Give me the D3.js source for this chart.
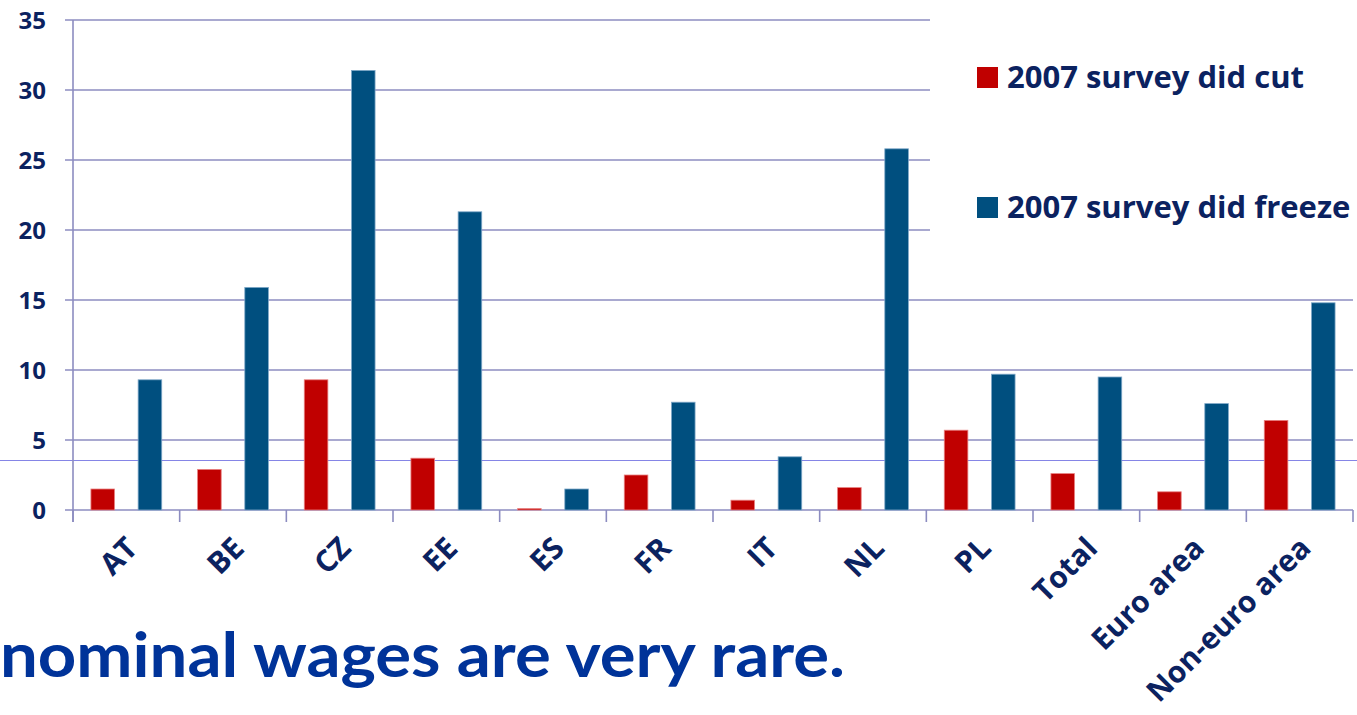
<!DOCTYPE html>
<html lang="en">
<head>
    <meta charset="utf-8">
    <title>Wage cuts and freezes</title>
    <script src="https://d3js.org/d3.v7.min.js"></script>
<style>
body { margin: 0; background: #fff; }
svg { display: block; }
</style>
</head>
<body>
<div id="chart"></div>
<script>
// data
var categories = ["AT", "BE", "CZ", "EE", "ES", "FR", "IT", "NL", "PL", "Total", "Euro area", "Non-euro area"];
var cutValues = [1.5, 2.9, 9.3, 3.7, 0.1, 2.5, 0.7, 1.6, 5.7, 2.6, 1.3, 6.4];
var freezeValues = [9.3, 15.9, 31.4, 21.3, 1.5, 7.7, 3.8, 25.8, 9.7, 9.5, 7.6, 14.8];
var seriesNames = ["2007 survey did cut", "2007 survey did freeze"];
var seriesColors = ["#c00000", "#004f7f"];
var yTicks = [0, 5, 10, 15, 20, 25, 30, 35];
var titleText = "nominal wages are very rare.";

(function () {
    var width = 1357, height = 715,
        left = 73, right = 1353, top = 20, bottom = 510,
        navy = "#0b2260", gridColor = "#8c8cc0";

    var svg = d3.select("#chart").append("svg")
        .attr("width", width).attr("height", height);

    var x0 = d3.scaleBand().domain(categories).range([left, right]);
    var x1 = d3.scaleBand().domain([0, 1]).range([0, x0.bandwidth()])
        .paddingInner(0.5).paddingOuter(0.38);
    var y = d3.scaleLinear().domain([0, 35]).range([bottom, top]);

    // slide decoration line behind the chart
    svg.append("line")
        .attr("x1", 0).attr("x2", width)
        .attr("y1", 460.5).attr("y2", 460.5)
        .style("stroke", "#8585e6").style("stroke-width", 1.2);

    // gridlines
    svg.append("g")
        .selectAll("line")
        .data(yTicks)
        .enter().append("line")
        .attr("x1", left - 8).attr("x2", right)
        .attr("y1", function (d) { return y(d); })
        .attr("y2", function (d) { return y(d); })
        .style("stroke", gridColor).style("stroke-width", 1.6);

    // legend box hides the top right of the grid
    svg.append("rect")
        .attr("x", 930).attr("y", 0).attr("width", width - 930).attr("height", 262)
        .style("fill", "#fff");

    // bars
    var groups = svg.append("g").selectAll("g")
        .data(categories)
        .enter().append("g")
        .attr("transform", function (d) { return "translate(" + x0(d) + ",0)"; });

    groups.selectAll("rect")
        .data(function (d, i) { return [cutValues[i], freezeValues[i]]; })
        .enter().append("rect")
        .attr("x", function (d, j) { return x1(j); })
        .attr("width", x1.bandwidth())
        .attr("y", function (d) { return y(d); })
        .attr("height", function (d) { return y(0) - y(d); })
        .style("fill", function (d, j) { return seriesColors[j]; })
        .style("stroke", function (d, j) { return j ? "#7fa8c8" : "#e88080"; })
        .style("stroke-width", 0.8);

    // axes
    svg.append("line")
        .attr("x1", left).attr("x2", left).attr("y1", top).attr("y2", bottom + 12)
        .style("stroke", gridColor).style("stroke-width", 1.6);

    var bounds = categories.map(function (d) { return x0(d); }).concat([right]);
    svg.append("g").selectAll("line")
        .data(bounds)
        .enter().append("line")
        .attr("x1", function (d) { return d; }).attr("x2", function (d) { return d; })
        .attr("y1", bottom).attr("y2", bottom + 12)
        .style("stroke", gridColor).style("stroke-width", 1.6);

    svg.append("g").selectAll("text")
        .data(yTicks)
        .enter().append("text")
        .attr("x", 46).attr("y", function (d) { return y(d); })
        .attr("dy", "0.36em")
        .attr("text-anchor", "end")
        .style("font", "bold 24px 'Open Sans', sans-serif")
        .style("fill", navy)
        .text(function (d) { return d; });

    svg.append("g").selectAll("text")
        .data(categories)
        .enter().append("text")
        .attr("transform", function (d) {
            return "translate(" + (x0(d) + x0.bandwidth() / 2 + 13) + "," + (bottom + 40) + ") rotate(-45)";
        })
        .attr("text-anchor", "end")
        .style("font", "bold 30px 'Open Sans', sans-serif")
        .style("fill", navy)
        .text(function (d) { return d; });

    // legend
    var legend = svg.append("g").selectAll("g")
        .data(seriesNames)
        .enter().append("g")
        .attr("transform", function (d, i) { return "translate(977," + (67 + i * 130) + ")"; });
    legend.append("rect")
        .attr("width", 21).attr("height", 21)
        .style("fill", function (d, i) { return seriesColors[i]; });
    legend.append("text")
        .attr("x", 30).attr("y", 21)
        .style("font", "bold 31px 'Open Sans', sans-serif")
        .style("fill", navy)
        .text(function (d) { return d; });

    // slide title fragment
    svg.append("text")
        .attr("x", 0).attr("y", 677)
        .attr("textLength", 845).attr("lengthAdjust", "spacingAndGlyphs")
        .style("font", "bold 62px Lato, sans-serif")
        .style("fill", "#003399")
        .text(titleText);
}());
</script>
</body>
</html>
